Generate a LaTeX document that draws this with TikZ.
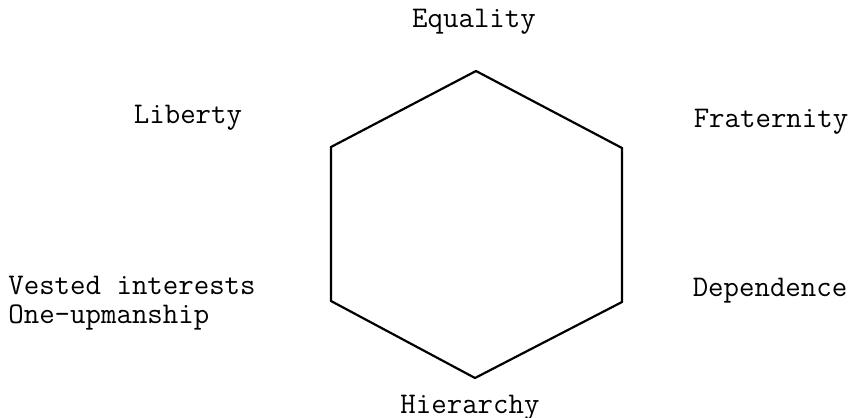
\documentclass[tikz,border=0pt]{standalone}
\usepackage{tikz}
\usetikzlibrary{positioning}

\begin{document}
\begin{tikzpicture}[
  x=0.5pt, y=-0.5pt,
  value/.style={font=\ttfamily\fontsize{15}{14.5}\selectfont, inner sep=0pt, anchor=base},
  edge/.style={line width=1.1pt, line join=miter},
]
  \useasboundingbox (0,0) rectangle (855,417);

  % corners of the hexagon
  \coordinate (top) at (476,71);
  \coordinate (ur) at (622,148);
  \coordinate (lr) at (622,302);
  \coordinate (bot) at (475,378);
  \coordinate (ll) at (331,301);
  \coordinate (ul) at (331,147);

  \draw[edge] (top) -- (ur) -- (lr) -- (bot) -- (ll) -- (ul) -- cycle;

  \node[value] (eq) at (474,28) {Equality};
  \node[value] (lib) at (188,123) {Liberty};
  \node[value] (frat) at (771,127) {Fraternity};
  \node[value] (dep) at (770,296) {Dependence};
  \node[value] (hier) at (470,413) {Hierarchy};
  \node[value, anchor=base west, align=left] (vest) at (8,323) {Vested interests\\One-upmanship};
\end{tikzpicture}
\end{document}
